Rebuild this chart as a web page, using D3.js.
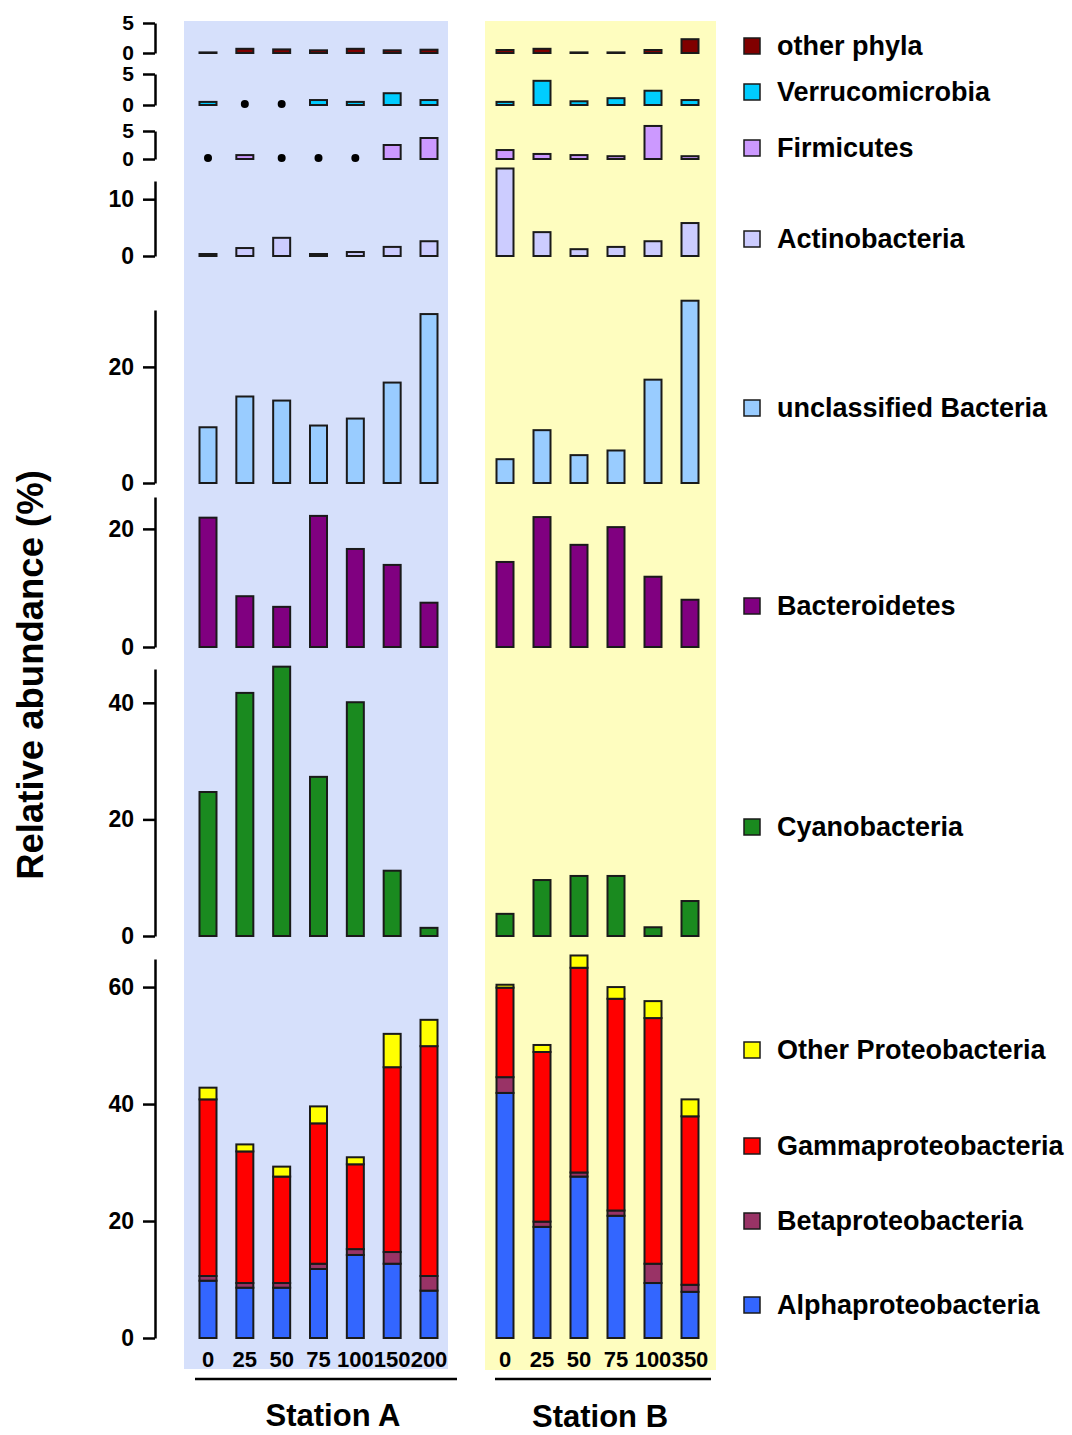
<!DOCTYPE html>
<html><head><meta charset="utf-8">
<script src="https://cdn.jsdelivr.net/npm/d3@7"></script>
<style>
html,body{margin:0;padding:0;background:#fff;}
svg text{font-family:"Liberation Sans",Arial,Helvetica,sans-serif;font-weight:bold;fill:#000;}
</style></head>
<body><svg id="chart" width="1072" height="1435"></svg>
<script>
// ---------- DATA ----------
const depthsA = ["0","25","50","75","100","150","200"];
const depthsB = ["0","25","50","75","100","350"];

// null = not detected (drawn as dot)
const otherA   = [0.1, 0.7, 0.6, 0.45, 0.7, 0.45, 0.55];
const otherB   = [0.5, 0.7, 0.1, 0.1, 0.5, 2.3];
const verrucA  = [0.5, null, null, 0.8, 0.5, 1.9, 0.8];
const verrucB  = [0.5, 3.9, 0.6, 1.1, 2.3, 0.8];
const firmA    = [null, 0.7, null, null, null, 2.5, 3.75];
const firmB    = [1.6, 0.9, 0.7, 0.5, 5.9, 0.5];
const actinoA  = [0.35, 1.4, 3.2, 0.35, 0.7, 1.6, 2.6];
const actinoB  = [15.4, 4.2, 1.2, 1.6, 2.6, 5.8];
const unclassA = [9.6, 14.9, 14.2, 9.9, 11.1, 17.3, 29.1];
const unclassB = [4.1, 9.1, 4.8, 5.6, 17.8, 31.4];
const bactA    = [21.9, 8.6, 6.8, 22.2, 16.6, 13.9, 7.5];
const bactB    = [14.4, 22.0, 17.3, 20.3, 11.9, 8.0];
const cyanoA   = [24.7, 41.7, 46.2, 27.3, 40.1, 11.2, 1.4];
const cyanoB   = [3.8, 9.6, 10.3, 10.3, 1.5, 6.0];
const alphaA   = [9.8, 8.6, 8.6, 11.8, 14.2, 12.7, 8.1];
const betaA    = [0.8, 0.8, 0.8, 0.9, 1.0, 2.0, 2.5];
const gammaA   = [30.2, 22.5, 18.2, 24.0, 14.5, 31.6, 39.3];
const oprotA   = [2.0, 1.2, 1.7, 2.9, 1.2, 5.7, 4.5];
const alphaB   = [41.9, 19.0, 27.6, 20.9, 9.4, 7.9];
const betaB    = [2.7, 0.9, 0.7, 0.9, 3.3, 1.2];
const gammaB   = [15.3, 29.0, 35.0, 36.2, 42.0, 28.8];
const oprotB   = [0.5, 1.2, 2.1, 2.0, 2.9, 2.9];

const ticksOther = [0,5], ticksVerruc=[0,5], ticksFirm=[0,5], ticksActino=[0,10],
      ticksUnclass=[0,20], ticksBact=[0,20], ticksCyano=[0,20,40], ticksProteo=[0,20,40,60];

const legendNames = ["other phyla","Verrucomicrobia","Firmicutes","Actinobacteria","unclassified Bacteria",
  "Bacteroidetes","Cyanobacteria","Other Proteobacteria","Gammaproteobacteria","Betaproteobacteria","Alphaproteobacteria"];
const colors = {
  other:"#800000", verruc:"#00ccff", firm:"#cc99ff", actino:"#ccccff", unclass:"#99ccff",
  bact:"#800080", cyano:"#1a8a1f", oprot:"#ffff00", gamma:"#ff0000", beta:"#993366", alpha:"#3366ff"
};
const legendKeys = ["other","verruc","firm","actino","unclass","bact","cyano","oprot","gamma","beta","alpha"];

// ---------- LAYOUT ----------
const legendY = [46, 92, 148, 239, 408, 606, 827, 1050, 1146, 1221, 1305];
const panels = [
  {A:otherA,   B:otherB,   c:"other",   y0:53,   yTop:23,  max:5,    ticks:ticksOther},
  {A:verrucA,  B:verrucB,  c:"verruc",  y0:105,  yTop:74,  max:5,    ticks:ticksVerruc},
  {A:firmA,    B:firmB,    c:"firm",    y0:159,  yTop:131, max:5,    ticks:ticksFirm},
  {A:actinoA,  B:actinoB,  c:"actino",  y0:256,  yTop:181, max:13.2, ticks:ticksActino},
  {A:unclassA, B:unclassB, c:"unclass", y0:483,  yTop:310, max:29.8, ticks:ticksUnclass},
  {A:bactA,    B:bactB,    c:"bact",    y0:647,  yTop:497, max:25.4, ticks:ticksBact},
  {A:cyanoA,   B:cyanoB,   c:"cyano",   y0:936,  yTop:669, max:45.8, ticks:ticksCyano},
];
const proteoPanel = {y0:1338, yTop:959, max:64.8, ticks:ticksProteo};

const svg = d3.select("#chart");
const xA = d3.scalePoint().domain(depthsA).range([208, 429]);
const xB = d3.scalePoint().domain(depthsB).range([505, 690]);
const bw = 17;

// backgrounds
svg.append("rect").attr("x",184).attr("y",21).attr("width",264).attr("height",1348).attr("fill","#d6e0fb");
svg.append("rect").attr("x",485).attr("y",21).attr("width",231).attr("height",1349).attr("fill","#fefdbf");

function drawAxis(p, y, fs){
  const g = svg.append("g").attr("transform","translate(155,0)")
    .call(d3.axisLeft(y).tickValues(p.ticks).tickSize(12).tickSizeOuter(0).tickPadding(9).tickFormat(d3.format("d")));
  g.select(".domain").attr("stroke","#000").attr("stroke-width",2.5);
  g.selectAll(".tick line").attr("stroke","#000").attr("stroke-width",2.5);
  g.selectAll(".tick text").style("font-size", fs + "px").attr("fill","#000");
}

function drawSimple(vals, x, cats, y, color){
  cats.forEach((cat,i)=>{
    const v = vals[i];
    if (v === null){
      svg.append("circle").attr("cx",x(cat)).attr("cy",y(0)-1).attr("r",4).attr("fill","#000");
    } else {
      svg.append("rect").attr("x",x(cat)-bw/2).attr("y",y(v)).attr("width",bw)
        .attr("height",Math.max(0.5,y(0)-y(v))).attr("fill",color)
        .attr("stroke","#1a1a1a").attr("stroke-width",2);
    }
  });
}

panels.forEach(p=>{
  const y = d3.scaleLinear().domain([0,p.max]).range([p.y0,p.yTop]);
  drawAxis(p, y, p.max <= 5 ? 21 : 23);
  drawSimple(p.A, xA, depthsA, y, colors[p.c]);
  drawSimple(p.B, xB, depthsB, y, colors[p.c]);
});

// stacked proteobacteria
const yP = d3.scaleLinear().domain([0,proteoPanel.max]).range([proteoPanel.y0,proteoPanel.yTop]);
drawAxis(proteoPanel, yP, 23);
const stackKeys = ["alpha","beta","gamma","oprot"];
function drawStack(cats, x, series){
  const rows = cats.map((c,i)=>({cat:c, alpha:series[0][i], beta:series[1][i], gamma:series[2][i], oprot:series[3][i]}));
  const st = d3.stack().keys(stackKeys)(rows);
  st.forEach(layer=>{
    layer.forEach(d=>{
      svg.append("rect").attr("x",x(d.data.cat)-bw/2).attr("y",yP(d[1])).attr("width",bw)
        .attr("height",yP(d[0])-yP(d[1])).attr("fill",colors[layer.key])
        .attr("stroke","#1a1a1a").attr("stroke-width",2);
    });
  });
}
drawStack(depthsA, xA, [alphaA,betaA,gammaA,oprotA]);
drawStack(depthsB, xB, [alphaB,betaB,gammaB,oprotB]);

// x labels
depthsA.forEach(d=>svg.append("text").attr("x",xA(d)).attr("y",1367).attr("text-anchor","middle").style("font-size","22px").text(d));
depthsB.forEach(d=>svg.append("text").attr("x",xB(d)).attr("y",1367).attr("text-anchor","middle").style("font-size","22px").text(d));

// station underlines & labels
svg.append("line").attr("x1",195).attr("x2",457).attr("y1",1379).attr("y2",1379).attr("stroke","#000").attr("stroke-width",2.5);
svg.append("line").attr("x1",495).attr("x2",711).attr("y1",1379).attr("y2",1379).attr("stroke","#000").attr("stroke-width",2.5);
svg.append("text").attr("x",333).attr("y",1426).attr("text-anchor","middle").style("font-size","31px").text("Station A");
svg.append("text").attr("x",600).attr("y",1427).attr("text-anchor","middle").style("font-size","31px").text("Station B");

// y title
svg.append("text").attr("transform","translate(43,675) rotate(-90)").attr("text-anchor","middle")
  .style("font-size","36.5px").text("Relative abundance (%)");

// legend
legendNames.forEach((n,i)=>{
  svg.append("rect").attr("x",744).attr("y",legendY[i]-8).attr("width",16).attr("height",16)
    .attr("fill",colors[legendKeys[i]]).attr("stroke","#1a1a1a").attr("stroke-width",1.5);
  svg.append("text").attr("x",777).attr("y",legendY[i]+9).style("font-size","27px").text(n);
});
</script></body></html>
